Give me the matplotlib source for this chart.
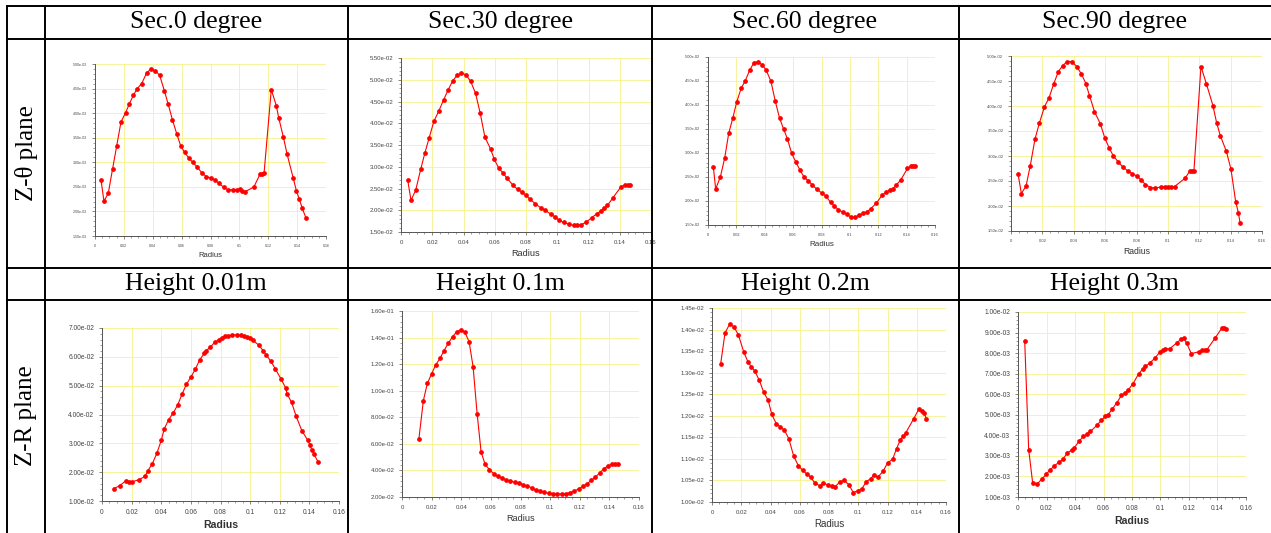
import matplotlib.pyplot as plt
from matplotlib.lines import Line2D
from matplotlib.ticker import FuncFormatter, MultipleLocator, AutoMinorLocator

W, H = 1271, 533

top_titles = ['Sec.0 degree', 'Sec.30 degree', 'Sec.60 degree', 'Sec.90 degree']
bottom_titles = ['Height 0.01m', 'Height 0.1m', 'Height 0.2m', 'Height 0.3m']
row_labels = ['Z-θ plane', 'Z-R plane']

# Z-theta plane, section 0 / 30 / 60 / 90 degree
r_sec0 = [0.0042, 0.0062, 0.0092, 0.0122, 0.015, 0.018, 0.0212, 0.0238, 0.0265, 0.0293,
          0.0323, 0.0358, 0.0388, 0.0418, 0.0448, 0.048, 0.0506, 0.0536, 0.0566, 0.0593,
          0.0621, 0.0649, 0.0677, 0.0709, 0.0741, 0.0771, 0.0801, 0.0831, 0.0861, 0.0891,
          0.0924, 0.0954, 0.0981, 0.1007, 0.1018, 0.1039, 0.1101, 0.1143, 0.1159, 0.1171,
          0.1221, 0.1256, 0.1272, 0.1305, 0.133, 0.1372, 0.1395, 0.1415, 0.1436, 0.1462]
v_sec0 = [0.0263, 0.0221, 0.0237, 0.0287, 0.0333, 0.0382, 0.0401, 0.0419, 0.0436, 0.045,
          0.046, 0.0482, 0.049, 0.0486, 0.0477, 0.0446, 0.0419, 0.0387, 0.0358, 0.0334,
          0.032, 0.0309, 0.03, 0.029, 0.0278, 0.0271, 0.0268, 0.0264, 0.0257, 0.0249,
          0.0244, 0.0244, 0.0244, 0.0245, 0.0242, 0.024, 0.025, 0.0276, 0.0277, 0.0278,
          0.0448, 0.0415, 0.0391, 0.0351, 0.0317, 0.0269, 0.0242, 0.0225, 0.0206, 0.0186]

r_sec30 = [0.0043, 0.0064, 0.0094, 0.0126, 0.0153, 0.0179, 0.0211, 0.0243, 0.0273, 0.0302,
           0.033, 0.0358, 0.0386, 0.0413, 0.0445, 0.0477, 0.0507, 0.0537, 0.0573, 0.0597,
           0.0624, 0.0652, 0.068, 0.0716, 0.0746, 0.0773, 0.0801, 0.0827, 0.0859, 0.0893,
           0.0922, 0.0959, 0.0988, 0.1012, 0.104, 0.1076, 0.1106, 0.1129, 0.1155, 0.1187,
           0.1221, 0.1253, 0.128, 0.1302, 0.1321, 0.1357, 0.1408, 0.1434, 0.1451, 0.1468]
v_sec30 = [0.0269, 0.0223, 0.0246, 0.0294, 0.0332, 0.0365, 0.0405, 0.0429, 0.0454, 0.0477,
           0.0497, 0.051, 0.0515, 0.0512, 0.0497, 0.0469, 0.0423, 0.0368, 0.0341, 0.0317,
           0.0298, 0.0286, 0.0273, 0.0258, 0.0248, 0.0242, 0.0234, 0.0225, 0.0215, 0.0206,
           0.02, 0.0191, 0.0184, 0.0177, 0.0172, 0.0168, 0.0165, 0.0165, 0.0167, 0.0173,
           0.0183, 0.0192, 0.0198, 0.0205, 0.0211, 0.0229, 0.0254, 0.0258, 0.0258, 0.0258]

r_sec60 = [0.0038, 0.0054, 0.0087, 0.0118, 0.0146, 0.0175, 0.0203, 0.0234, 0.0262, 0.0293,
           0.0323, 0.0349, 0.0382, 0.0411, 0.0444, 0.0474, 0.0505, 0.0533, 0.0559, 0.059,
           0.0618, 0.0647, 0.0675, 0.0706, 0.0734, 0.0765, 0.08, 0.0833, 0.0864, 0.089,
           0.0918, 0.0949, 0.0977, 0.1005, 0.1036, 0.1064, 0.1093, 0.1119, 0.1147, 0.1185,
           0.1227, 0.1258, 0.1282, 0.1305, 0.1326, 0.1359, 0.1406, 0.143, 0.1447, 0.1461]
v_sec60 = [0.027, 0.0225, 0.025, 0.029, 0.0341, 0.0373, 0.0407, 0.0435, 0.045, 0.0472,
           0.0488, 0.049, 0.0484, 0.0472, 0.0449, 0.0408, 0.0372, 0.035, 0.033, 0.0299,
           0.0282, 0.0265, 0.0251, 0.0242, 0.0234, 0.0225, 0.0217, 0.021, 0.0197, 0.019,
           0.0182, 0.0177, 0.0172, 0.0167, 0.0166, 0.017, 0.0174, 0.0177, 0.0184, 0.0195,
           0.0212, 0.0219, 0.0223, 0.0226, 0.0233, 0.0244, 0.0268, 0.0272, 0.0273, 0.0273]

r_sec90 = [0.0045, 0.0066, 0.0096, 0.0123, 0.0153, 0.0181, 0.0213, 0.0243, 0.0272, 0.0302,
           0.033, 0.0358, 0.0387, 0.0419, 0.0449, 0.0477, 0.05, 0.0532, 0.057, 0.0598,
           0.0626, 0.0651, 0.0681, 0.0713, 0.0745, 0.0772, 0.0802, 0.083, 0.0857, 0.0889,
           0.0921, 0.0953, 0.0981, 0.1002, 0.1021, 0.1043, 0.1111, 0.114, 0.1151, 0.1166,
           0.1211, 0.1245, 0.1287, 0.1311, 0.1334, 0.1372, 0.1402, 0.1432, 0.1449, 0.146]
v_sec90 = [0.0264, 0.0225, 0.024, 0.0281, 0.0334, 0.0366, 0.0398, 0.0417, 0.0444, 0.0469,
           0.0481, 0.0489, 0.0489, 0.0479, 0.0464, 0.0445, 0.0421, 0.0389, 0.0364, 0.0336,
           0.0316, 0.0301, 0.0289, 0.0278, 0.027, 0.0265, 0.026, 0.0252, 0.0243, 0.0237,
           0.0236, 0.0238, 0.0238, 0.0238, 0.0238, 0.0239, 0.0256, 0.027, 0.027, 0.027,
           0.0479, 0.0445, 0.0401, 0.0366, 0.0341, 0.031, 0.0274, 0.0209, 0.0187, 0.0167]

# Z-R plane, height 0.01 / 0.1 / 0.2 / 0.3 m
r_h001 = [0.008, 0.012, 0.016, 0.018, 0.02, 0.025, 0.029, 0.031, 0.034, 0.037,
          0.04, 0.042, 0.045, 0.048, 0.051, 0.054, 0.057, 0.06, 0.063, 0.066,
          0.069, 0.07, 0.073, 0.076, 0.079, 0.081, 0.083, 0.085, 0.088, 0.091,
          0.094, 0.096, 0.098, 0.1, 0.102, 0.106, 0.109, 0.111, 0.114, 0.117,
          0.121, 0.124, 0.125, 0.128, 0.131, 0.135, 0.139, 0.1405, 0.1415, 0.143, 0.146]
v_h001 = [0.0143, 0.0153, 0.017, 0.0166, 0.0166, 0.0174, 0.0185, 0.0205, 0.023, 0.0265,
          0.031, 0.035, 0.0382, 0.0405, 0.0432, 0.047, 0.0505, 0.053, 0.0557, 0.059,
          0.0612, 0.062, 0.0633, 0.065, 0.066, 0.0667, 0.0672, 0.0673, 0.0676, 0.0676,
          0.0676, 0.0673, 0.0669, 0.0665, 0.0657, 0.064, 0.062, 0.0605, 0.0585, 0.0558,
          0.0522, 0.0492, 0.0471, 0.0442, 0.0395, 0.0343, 0.031, 0.0293, 0.0278, 0.0264, 0.0234]

r_h01 = [0.0114, 0.0144, 0.0171, 0.02, 0.0227, 0.0256, 0.0283, 0.0312, 0.0341, 0.0368,
         0.0395, 0.0424, 0.0453, 0.048, 0.0507, 0.0534, 0.0561, 0.059, 0.0619, 0.0646,
         0.0676, 0.0705, 0.0732, 0.0761, 0.079, 0.0817, 0.0846, 0.0875, 0.0904, 0.0931,
         0.096, 0.099, 0.1019, 0.1048, 0.1077, 0.1104, 0.1133, 0.1162, 0.1192, 0.1221,
         0.125, 0.1279, 0.1306, 0.1335, 0.1364, 0.1391, 0.142, 0.1438, 0.1459]
v_h01 = [0.0637, 0.0924, 0.1055, 0.1127, 0.1193, 0.1243, 0.1301, 0.1356, 0.1406, 0.1442,
         0.1457, 0.1442, 0.1369, 0.118, 0.0828, 0.0539, 0.0446, 0.0406, 0.0376, 0.0356,
         0.0343, 0.0328, 0.0321, 0.0311, 0.0303, 0.0293, 0.0283, 0.027, 0.025, 0.0243,
         0.0235, 0.0228, 0.0223, 0.0223, 0.0223, 0.0223, 0.0233, 0.0245, 0.026, 0.028,
         0.0301, 0.0326, 0.0351, 0.0381, 0.0414, 0.0434, 0.0449, 0.0451, 0.0451]

r_h02 = [0.0059, 0.0089, 0.0121, 0.0151, 0.0181, 0.0217, 0.0247, 0.0269, 0.0292, 0.0324,
         0.0354, 0.0384, 0.0409, 0.0439, 0.0468, 0.0495, 0.0525, 0.0559, 0.0591, 0.0619,
         0.0648, 0.0676, 0.0705, 0.0737, 0.0762, 0.0792, 0.0819, 0.0842, 0.0874, 0.0904,
         0.0936, 0.0966, 0.0997, 0.1025, 0.1055, 0.1084, 0.1109, 0.1132, 0.1169, 0.1201,
         0.1235, 0.1262, 0.1288, 0.1308, 0.1324, 0.1379, 0.1415, 0.1436, 0.1452, 0.1466]
v_h02 = [0.0132, 0.01392, 0.01413, 0.01406, 0.01387, 0.01348, 0.01324, 0.01314, 0.01304, 0.01282,
         0.01254, 0.01236, 0.01203, 0.01182, 0.01174, 0.01167, 0.01147, 0.01106, 0.01084, 0.01074,
         0.01065, 0.01057, 0.01043, 0.01038, 0.01043, 0.0104, 0.01037, 0.01035, 0.01047, 0.0105,
         0.0104, 0.01022, 0.01026, 0.01031, 0.01047, 0.01054, 0.01063, 0.01057, 0.01071, 0.01091,
         0.01099, 0.01124, 0.01144, 0.01153, 0.0116, 0.01193, 0.01216, 0.01212, 0.01206, 0.01192]

r_h03 = [0.0047, 0.0075, 0.0103, 0.0136, 0.0166, 0.0197, 0.0223, 0.0255, 0.0286, 0.0314,
         0.0347, 0.0377, 0.0396, 0.0429, 0.0459, 0.0485, 0.0508, 0.0553, 0.0585, 0.0614,
         0.0632, 0.0663, 0.0693, 0.0726, 0.075, 0.0773, 0.0808, 0.0846, 0.0876, 0.0893,
         0.0923, 0.096, 0.0993, 0.1019, 0.1035, 0.1066, 0.1113, 0.1146, 0.1164, 0.1183,
         0.1216, 0.1267, 0.1293, 0.131, 0.1326, 0.1385, 0.1429, 0.1443, 0.1457]
v_h03 = [0.00861, 0.0033, 0.00168, 0.00165, 0.00186, 0.0021, 0.0023, 0.00252, 0.00268, 0.00283,
         0.00315, 0.00328, 0.0034, 0.00372, 0.00395, 0.00406, 0.00419, 0.00448, 0.00474, 0.00493,
         0.005, 0.00529, 0.00558, 0.00594, 0.00605, 0.0062, 0.00652, 0.00699, 0.00723, 0.00735,
         0.00751, 0.00775, 0.00803, 0.00817, 0.0082, 0.00822, 0.00849, 0.00869, 0.00872, 0.00849,
         0.00798, 0.00806, 0.00813, 0.00814, 0.00817, 0.00875, 0.0092, 0.00922, 0.00919]

series = [(r_sec0, v_sec0), (r_sec30, v_sec30), (r_sec60, v_sec60), (r_sec90, v_sec90),
          (r_h001, v_h001), (r_h01, v_h01), (r_h02, v_h02), (r_h03, v_h03)]
y_ranges = [(0.015, 0.05, 0.005), (0.015, 0.055, 0.005), (0.015, 0.05, 0.005), (0.015, 0.05, 0.005),
            (0.01, 0.07, 0.01), (0.02, 0.16, 0.02), (0.010, 0.0145, 0.0005), (0.001, 0.010, 0.001)]

# panel boxes in pixels: left, right, top, bottom, tick font, label font, bold label
boxes = [(95, 326, 64, 236, 2.6, 5.5, False),
         (401, 651, 58, 232, 4.3, 6.6, False),
         (708, 935, 57, 225, 2.8, 5.8, False),
         (1011, 1262, 56, 231, 3.0, 6.2, False),
         (102, 339, 328, 501, 4.8, 7.6, True),
         (402, 639, 311, 497, 4.3, 6.6, False),
         (712, 946, 308, 502, 4.3, 7.0, False),
         (1018, 1246, 312, 497, 4.8, 7.6, True)]

fig = plt.figure(figsize=(W / 100, H / 100), dpi=100)


def px_rect(l, r, t, b):
    return [l / W, 1 - b / H, (r - l) / W, (b - t) / H]


for (r, v), (y0, y1, dy), (l, rr, t, b, tfs, lfs, bold) in zip(series, y_ranges, boxes):
    ax = fig.add_axes(px_rect(l, rr, t, b))
    ax.plot(r, v, color='red', lw=0.8, marker='o', ms=2.4, mec='red', mfc='red', clip_on=False)
    ax.set_xlim(0, 0.16)
    ax.set_ylim(y0, y1)
    ax.xaxis.set_major_locator(MultipleLocator(0.02))
    ax.yaxis.set_major_locator(MultipleLocator(dy))
    ax.xaxis.set_minor_locator(AutoMinorLocator(4))
    ax.yaxis.set_minor_locator(AutoMinorLocator(5))
    ax.xaxis.set_major_formatter(FuncFormatter(lambda x, p: f'{x:g}'))
    ax.yaxis.set_major_formatter(FuncFormatter(lambda y, p: f'{y:.2e}'))
    ax.grid(True, which='major', color='#f7f28a', lw=0.6)
    ax.set_axisbelow(True)
    for s in ['top', 'right']:
        ax.spines[s].set_visible(False)
    for s in ['left', 'bottom']:
        ax.spines[s].set_color('#555555')
        ax.spines[s].set_linewidth(0.7)
    ax.tick_params(which='major', length=2.5, width=0.5, colors='#555555',
                   labelsize=tfs, labelcolor='#444444', pad=3)
    ax.tick_params(which='minor', length=1.5, width=0.4, colors='#555555')
    ax.set_xlabel('Radius', fontsize=lfs, color='#333333', family='Liberation Sans',
                  fontweight='bold' if bold else 'normal', labelpad=3)
    for lab in ax.get_xticklabels() + ax.get_yticklabels():
        lab.set_family('Liberation Sans')

# table grid (right and bottom edges fall outside the picture)
xs = [7, 45, 348, 652, 959]
ys = [6, 39, 268, 300]
for x in xs:
    fig.add_artist(Line2D([x / W, x / W], [1 - ys[0] / H, 0], color='black', lw=1.4))
for y in ys:
    fig.add_artist(Line2D([xs[0] / W, 1], [1 - y / H, 1 - y / H], color='black', lw=1.4))

serif = ['Liberation Serif', 'DejaVu Serif']
centers = [196, 500, 805, 1114]
for i in range(4):
    cx = centers[i] / W
    fig.text(cx, 1 - 22 / H, top_titles[i], ha='center', va='center', fontsize=18.5, family=serif)
    fig.text(cx, 1 - 284 / H, bottom_titles[i], ha='center', va='center', fontsize=18.5, family=serif)
fig.text(26 / W, 1 - 153 / H, row_labels[0], rotation=90, ha='center', va='center', fontsize=18, family=serif)
fig.text(26 / W, 1 - 416 / H, row_labels[1], rotation=90, ha='center', va='center', fontsize=18, family=serif)

fig.savefig('out.png', dpi=100)
